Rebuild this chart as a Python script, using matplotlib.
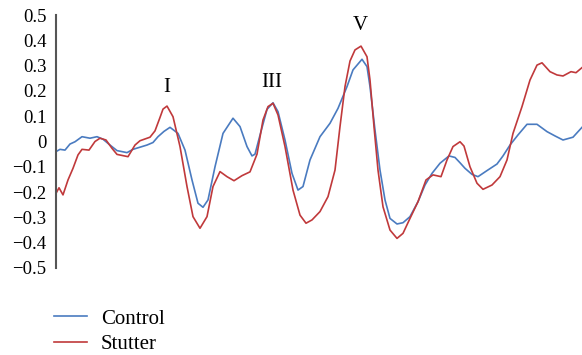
import matplotlib.pyplot as plt

# Sample positions and amplitudes
control_x = [0, 4, 9, 14, 19, 26, 34, 41, 47, 54, 61, 71, 77, 91, 97, 102, 108, 114,
             122, 129, 136, 142, 147, 152, 159, 167, 177, 184, 191, 196, 199, 204, 211,
             217, 222, 229, 236, 242, 247, 254, 264, 274, 282, 291, 297, 306, 311, 314,
             319, 324, 329, 334, 341, 347, 354, 362, 369, 376, 384, 393, 399, 404, 409,
             416, 422, 431, 441, 447, 454, 462, 471, 481, 491, 499, 507, 517, 526]
control_y = [-0.040, -0.031, -0.034, -0.010, -0.001, 0.019, 0.013, 0.019, 0.009, -0.014,
             -0.036, -0.044, -0.031, -0.014, -0.004, 0.019, 0.040, 0.056,
             0.032, -0.034, -0.152, -0.244, -0.260, -0.231, -0.100, 0.032, 0.092, 0.059,
             -0.020, -0.057, -0.050, 0.025, 0.127,
             0.153, 0.118, 0.006, -0.126, -0.192, -0.178, -0.073, 0.019, 0.072, 0.131,
             0.217, 0.283, 0.325, 0.296, 0.217,
             0.045, -0.113, -0.231, -0.304, -0.326, -0.321, -0.297, -0.238, -0.172,
             -0.126, -0.086, -0.057, -0.063, -0.084, -0.106,
             -0.130, -0.139, -0.115, -0.089, -0.057, -0.014, 0.026, 0.068, 0.068, 0.039,
             0.022, 0.006, 0.017, 0.056]

stutter_x = [0, 3, 7, 12, 17, 22, 26, 33, 39, 44, 50, 56, 61, 72, 79, 84, 94, 99, 104,
             107, 111, 117, 124, 131, 137, 144, 151, 157, 164, 171, 178, 186, 194, 201,
             207, 212, 217, 222, 229, 237, 244, 250, 256, 264, 272, 279, 284, 289, 294,
             299, 305, 311, 314, 318, 322, 327, 334, 341, 347, 354, 362, 370, 377, 385,
             391, 397, 404, 408, 414, 421, 427, 436, 444, 451, 457, 466, 474, 481, 486,
             494, 501, 507, 515, 520, 526]
stutter_y = [-0.205, -0.183, -0.211, -0.152, -0.106, -0.053, -0.031, -0.034, 0.000,
             0.013, 0.006, -0.027, -0.051, -0.060, -0.014, 0.003, 0.017, 0.042, 0.095,
             0.128, 0.140, 0.098, -0.020, -0.178, -0.297, -0.343, -0.297, -0.178,
             -0.119, -0.139, -0.155, -0.135, -0.120, -0.050,
             0.085, 0.138, 0.151, 0.105, -0.020, -0.192, -0.291, -0.323, -0.310, -0.277,
             -0.218, -0.113, 0.059, 0.217, 0.318,
             0.362, 0.377, 0.335, 0.243, 0.059, -0.113, -0.258, -0.350, -0.383, -0.363,
             -0.304, -0.238, -0.152, -0.132, -0.139,
             -0.073, -0.020, -0.001, -0.018, -0.100, -0.165, -0.189, -0.172, -0.139,
             -0.073, 0.032, 0.138, 0.243, 0.302, 0.311,
             0.276, 0.263, 0.259, 0.276, 0.272, 0.292]

peak_labels = ['I', 'III', 'V']
peak_x = [111, 216, 304]
peak_y = [0.215, 0.235, 0.46]

plt.rcParams['font.family'] = ['Liberation Serif', 'DejaVu Serif']

fig = plt.figure(figsize=(5.82, 3.55), dpi=100)
ax = fig.add_axes([56 / 582, 1 - 268 / 355, 1 - 56 / 582, 253 / 355])

ax.plot(control_x, control_y, color='#4a7bc0', lw=1.2, label='Control')
ax.plot(stutter_x, stutter_y, color='#c0393b', lw=1.2, label='Stutter')

for lab, x, y in zip(peak_labels, peak_x, peak_y):
    ax.text(x, y, lab, ha='center', va='center', fontsize=15)

ax.set_xlim(0, 526)
ax.set_ylim(-0.5, 0.5)
ax.set_yticks([i / 10 for i in range(-5, 6)])
ax.set_yticklabels(['\u22120.5', '\u22120.4', '\u22120.3', '\u22120.2', '\u22120.1', '0',
                    '0.1', '0.2', '0.3', '0.4', '0.5'])
ax.tick_params(axis='y', length=0, pad=7, labelsize=13.5)
ax.set_xticks([])
for s in ['top', 'right', 'bottom']:
    ax.spines[s].set_visible(False)
ax.spines['left'].set_color('#555555')
ax.spines['left'].set_linewidth(1.5)

fig.legend(loc='upper left', bbox_to_anchor=(54 / 582, 1 - 309 / 355), frameon=False,
           fontsize=15, handlelength=1.6, handletextpad=0.65, labelspacing=0.3,
           borderpad=0, borderaxespad=0)

fig.savefig('out.png', dpi=100)
